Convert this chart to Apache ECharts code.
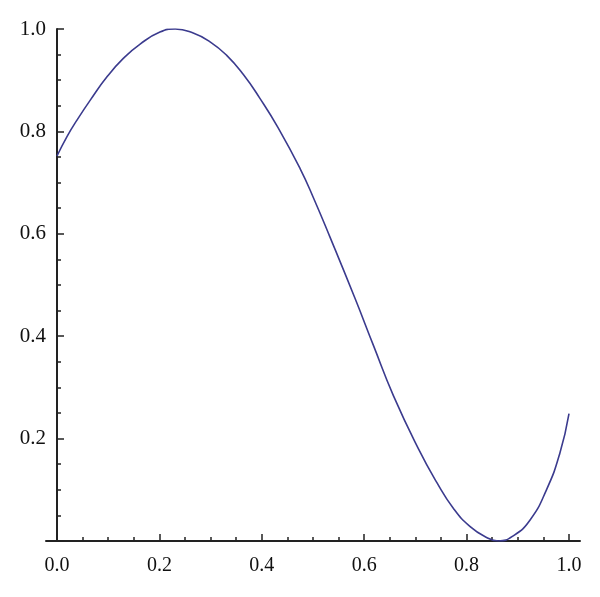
<!DOCTYPE html>
<html>
<head>
<meta charset="utf-8">
<script src="https://cdn.jsdelivr.net/npm/echarts@6/dist/echarts.min.js"></script>
<style>
html,body{margin:0;padding:0;background:#fff;}
#chart{width:600px;height:597px;}
</style>
</head>
<body>
<div id="chart"></div>
<script>
var xValues = [0, 0.0195, 0.039, 0.065, 0.098, 0.130, 0.163, 0.201, 0.231, 0.266, 0.299, 0.331, 0.364, 0.396, 0.432, 0.475, 0.501, 0.533, 0.582, 0.618, 0.657, 0.706, 0.742, 0.774, 0.807, 0.839, 0.862, 0.891, 0.924, 0.956, 0.982, 1.0];
var yValues = [0.752, 0.790, 0.822, 0.861, 0.907, 0.943, 0.971, 0.994, 1.0, 0.992, 0.975, 0.949, 0.911, 0.865, 0.807, 0.727, 0.670, 0.594, 0.474, 0.382, 0.284, 0.180, 0.114, 0.064, 0.028, 0.007, 0.0, 0.010, 0.041, 0.100, 0.171, 0.249];
var xTickLabels = ['0.0', '0.2', '0.4', '0.6', '0.8', '1.0'];
var yTickLabels = ['', '0.2', '0.4', '0.6', '0.8', '1.0'];

var points = xValues.map(function (x, i) { return [x, yValues[i]]; });
var font = 'Liberation Serif';
var axisColor = '#222';

var chart = echarts.init(document.getElementById('chart'), null, {renderer: 'canvas'});
chart.setOption({
  animation: false,
  backgroundColor: '#fff',
  grid: [
    {left: 57, top: 29, width: 512, height: 512},
    {left: 46, top: 29, width: 534, height: 512}
  ],
  xAxis: [
    {
      type: 'value', gridIndex: 0, min: 0, max: 1, interval: 0.2,
      axisLine: {show: false},
      axisTick: {show: true, inside: true, length: 7, lineStyle: {color: axisColor, width: 1.5}},
      minorTick: {show: true, splitNumber: 4, length: 4, lineStyle: {color: axisColor, width: 1.5}},
      splitLine: {show: false},
      axisLabel: {
        margin: 15, color: '#111', fontFamily: font, fontSize: 20,
        formatter: function (v) { return xTickLabels[Math.round(v / 0.2)]; }
      }
    },
    {
      type: 'value', gridIndex: 1, min: 0, max: 1,
      axisLine: {show: true, lineStyle: {color: axisColor, width: 2}},
      axisTick: {show: false}, axisLabel: {show: false}, splitLine: {show: false}
    }
  ],
  yAxis: [
    {
      type: 'value', gridIndex: 0, min: 0, max: 1, interval: 0.2,
      axisLine: {show: true, onZero: false, lineStyle: {color: axisColor, width: 2}},
      axisTick: {show: true, inside: true, length: 7, lineStyle: {color: axisColor, width: 1.5}},
      minorTick: {show: true, splitNumber: 4, length: 4, lineStyle: {color: axisColor, width: 1.5}},
      splitLine: {show: false},
      axisLabel: {
        margin: 11, color: '#111', fontFamily: font, fontSize: 21,
        padding: [6, 0, 0, 0],
        formatter: function (v) { return yTickLabels[Math.round(v / 0.2)]; }
      }
    },
    {type: 'value', gridIndex: 1, min: 0, max: 1, show: false}
  ],
  series: [{
    type: 'line', xAxisIndex: 0, yAxisIndex: 0,
    data: points, smooth: 0.5, showSymbol: false,
    lineStyle: {color: '#3b3b8e', width: 1.6}
  }]
});
</script>
</body>
</html>
